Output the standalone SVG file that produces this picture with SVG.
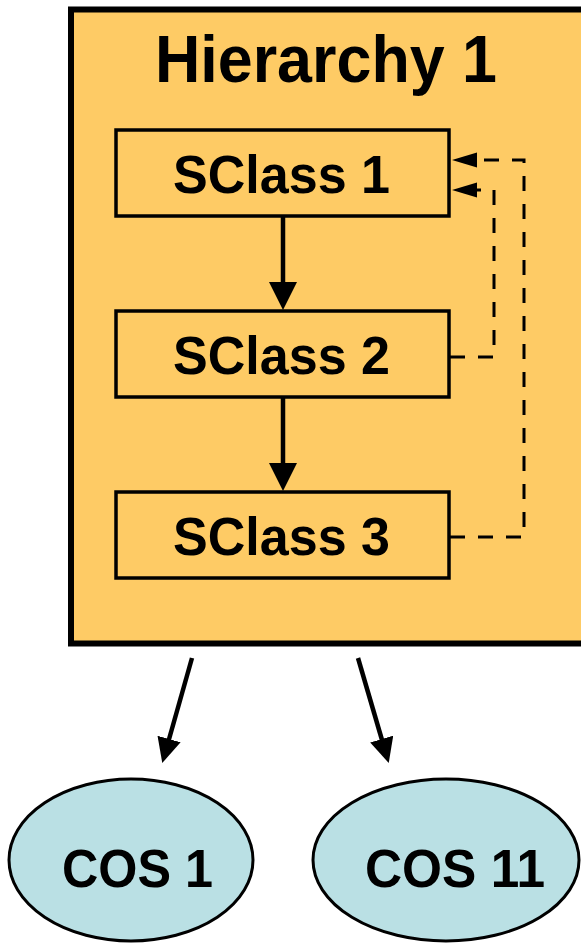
<svg xmlns="http://www.w3.org/2000/svg" width="581" height="944" viewBox="0 0 581 944">
  <style>
    .label { font-family: "Liberation Sans", Arial, sans-serif; font-weight: bold; fill: #000; }
    .box { fill: #FECB65; stroke: #000; stroke-width: 3.5; }
    .cos { fill: #BAE0E4; stroke: #000; stroke-width: 3; }
    .solid { fill: none; stroke: #000; stroke-width: 4.5; }
    .dash { fill: none; stroke: #000; stroke-width: 3; stroke-dasharray: 15 13; }
  </style>
  <defs>
    <marker id="head" markerUnits="userSpaceOnUse" markerWidth="28" markerHeight="28" refX="1" refY="14" orient="auto">
      <path d="M0,0 L28,14 L0,28 Z" fill="#000"/>
    </marker>
    <marker id="headSmall" markerUnits="userSpaceOnUse" markerWidth="26" markerHeight="24" refX="1" refY="12" orient="auto">
      <path d="M0,0 L25,12 L0,24 Z" fill="#000"/>
    </marker>
    <marker id="headDash" markerUnits="userSpaceOnUse" markerWidth="26" markerHeight="16" refX="1" refY="7.5" orient="auto">
      <path d="M0,0 L25,7.5 L0,15 Z" fill="#000"/>
    </marker>
  </defs>

  <rect width="581" height="944" fill="#FFFFFF"/>

  <!-- container -->
  <g id="hierarchy1">
    <rect x="71" y="9.5" width="540" height="634" fill="#FECB65" stroke="#000" stroke-width="6"/>
    <text class="label" x="155" y="82" font-size="66" textLength="342" lengthAdjust="spacingAndGlyphs">Hierarchy 1</text>
  </g>

  <g id="sclass1">
    <rect class="box" x="116" y="130" width="333" height="86"/>
    <text class="label" x="173" y="193" font-size="54" textLength="217" lengthAdjust="spacingAndGlyphs">SClass 1</text>
  </g>
  <g id="sclass2">
    <rect class="box" x="116" y="311" width="333" height="86"/>
    <text class="label" x="173" y="374" font-size="54" textLength="217" lengthAdjust="spacingAndGlyphs">SClass 2</text>
  </g>
  <g id="sclass3">
    <rect class="box" x="116" y="492" width="333" height="86"/>
    <text class="label" x="173" y="555" font-size="54" textLength="217" lengthAdjust="spacingAndGlyphs">SClass 3</text>
  </g>

  <g id="cos1">
    <ellipse class="cos" cx="131" cy="860" rx="122" ry="81"/>
    <text class="label" x="62" y="887" font-size="53" textLength="151" lengthAdjust="spacingAndGlyphs">COS 1</text>
  </g>
  <g id="cos11">
    <ellipse class="cos" cx="446" cy="860" rx="133" ry="81"/>
    <text class="label" x="365" y="887" font-size="53" textLength="180" lengthAdjust="spacingAndGlyphs">COS 11</text>
  </g>

  <!-- connectors -->
  <g id="connectors">
    <line class="solid" x1="283" y1="217" x2="283" y2="283" marker-end="url(#head)"/>
    <line class="solid" x1="283" y1="398" x2="283" y2="464" marker-end="url(#head)"/>
    <path class="dash" d="M450,537 H524 V160 H476" marker-end="url(#headDash)"/>
    <path class="dash" d="M450,357 H494 V190 H476" marker-end="url(#headDash)"/>
    <line class="solid" x1="192" y1="658" x2="168.8" y2="740" marker-end="url(#headSmall)"/>
    <line class="solid" x1="358" y1="658" x2="382" y2="740" marker-end="url(#headSmall)"/>
  </g>
</svg>
